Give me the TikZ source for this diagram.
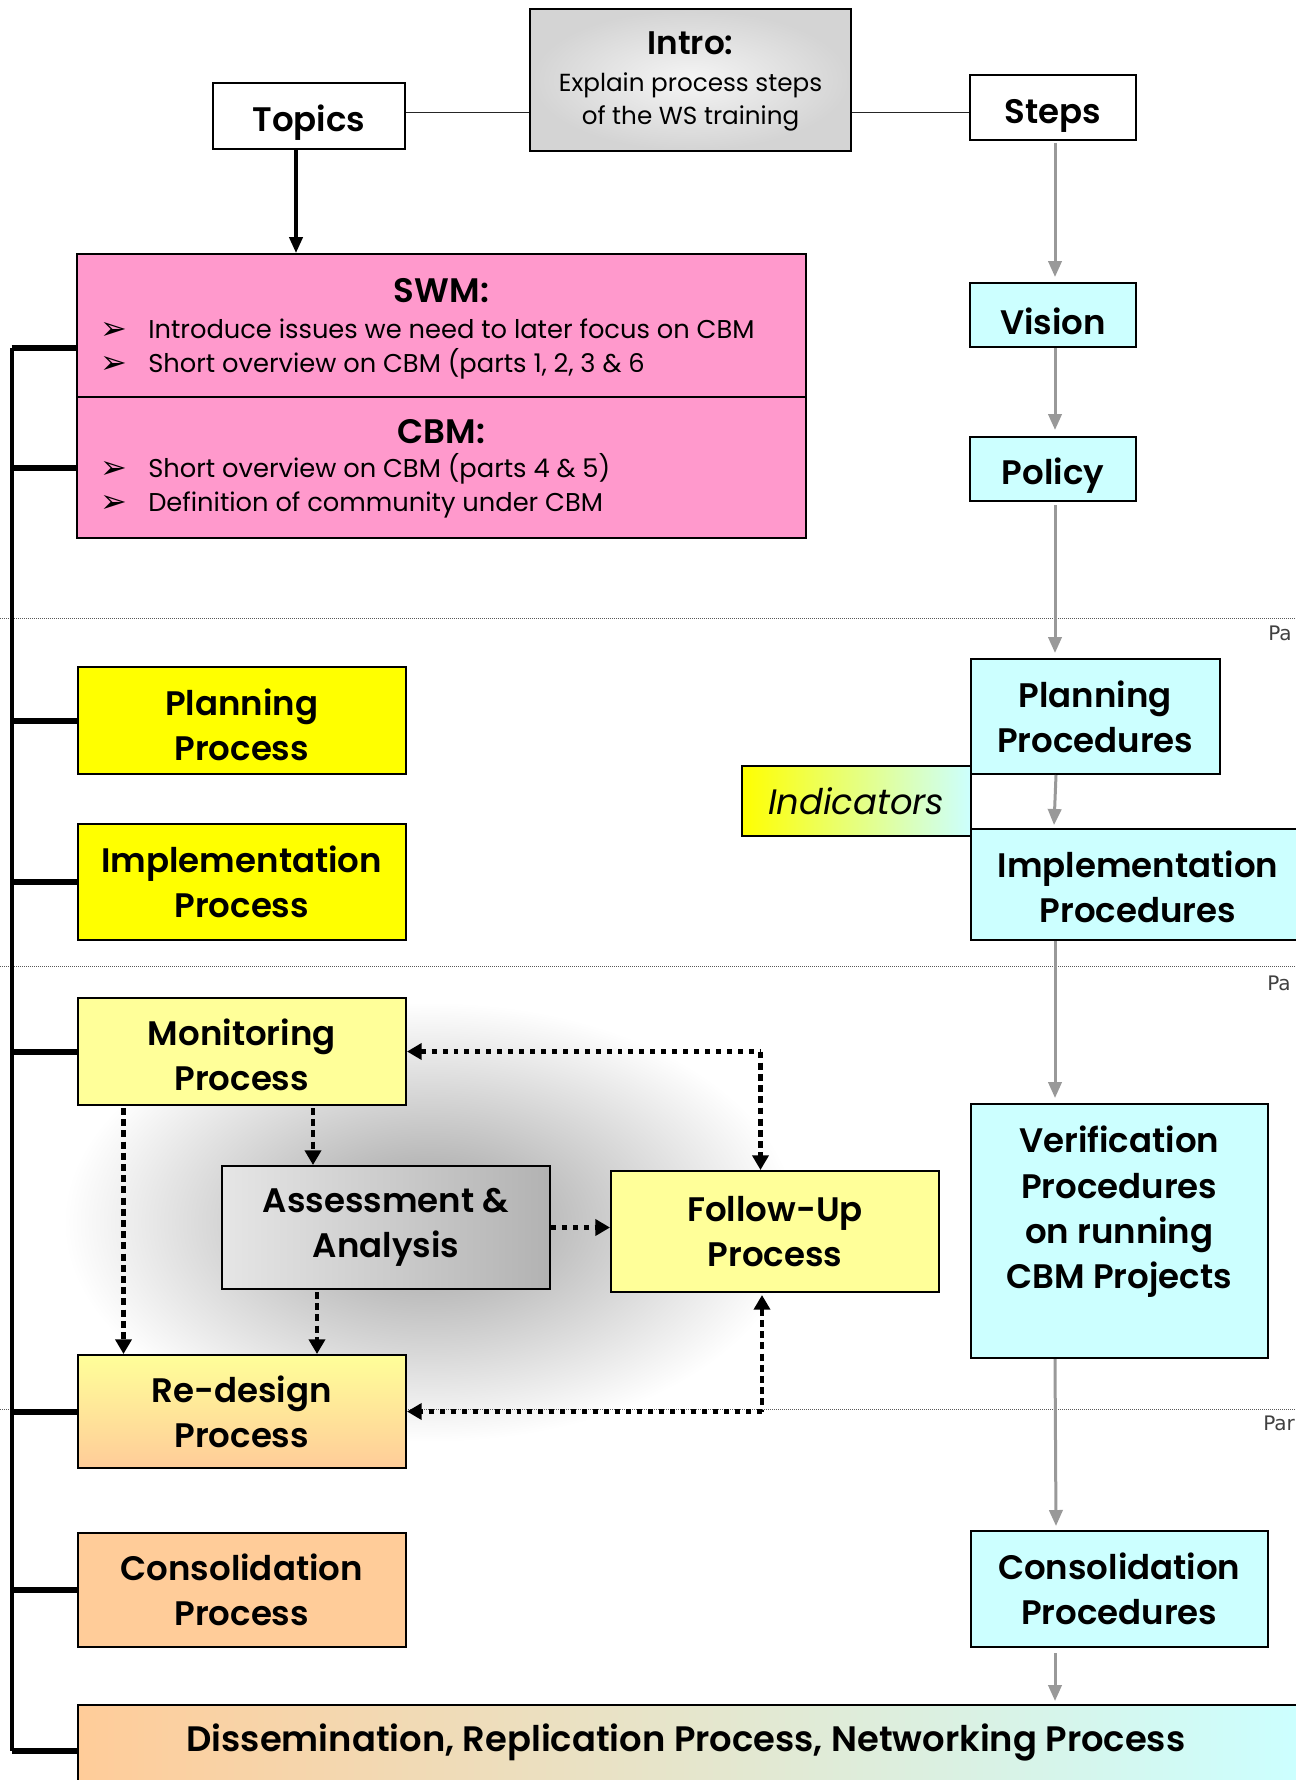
\documentclass[tikz,border=0pt]{standalone}
\usepackage{fontspec}
\setmainfont{Poppins}[BoldFont={Poppins SemiBold}]
\newfontfamily\dingfont{DejaVu Sans}
\newfontfamily\partfont{DejaVu Sans}
\usetikzlibrary{arrows.meta,calc}
\definecolor{pinkbox}{HTML}{FF99CC}
\definecolor{yelbox}{HTML}{FFFF00}
\definecolor{lyelbox}{HTML}{FFFF99}
\definecolor{cyanbox}{HTML}{CCFFFF}
\definecolor{peachbox}{HTML}{FFCC99}
\definecolor{grayarrow}{HTML}{999999}
\tikzset{
  boxbase/.style={draw=black, line width=1.5pt, rectangle, inner sep=0pt, align=center,
    font=\bfseries\fontsize{25.5}{34}\selectfont},
  box/.style={boxbase, execute at begin node={\rule{0pt}{30pt}}},
  boxtext/.style={inner sep=0pt, align=center, font=\bfseries\fontsize{25.5}{34}\selectfont},
  wh/.style 2 args={minimum width=#1*0.75pt, minimum height=#2*0.75pt},
  plain/.style={inner sep=0pt, font=\fontsize{19.3}{22}\selectfont},
  bul/.style={inner sep=0pt, anchor=base west, font=\dingfont\fontsize{24}{26}\selectfont},
  titlefont/.style={font=\bfseries\fontsize{25.5}{30}\selectfont},
  grayarr/.style={draw=grayarrow, line width=2.25pt, -{Triangle[length=12pt,width=10pt]}},
  blackarr/.style={draw=black, line width=2.5pt, -{Triangle[length=12pt,width=10pt]}},
  dotH/.style={draw=black, line width=3.5pt, dash pattern=on 3.7pt off 4.5pt,
    >={Triangle[length=11pt,width=12pt]}},
  dotV/.style={draw=black, line width=3.5pt, dash pattern=on 5.2pt off 3.2pt,
    >={Triangle[length=11pt,width=12pt]}},
  sepline/.style={draw=black!65, line width=0.75pt, dash pattern=on 0.75pt off 0.75pt},
  parttext/.style={inner sep=0pt, anchor=west, text=black!75, font=\partfont\fontsize{15}{17}\selectfont},
  bracketline/.style={draw=black, line width=3pt},
  tickline/.style={draw=black, line width=4.5pt},
  thinline/.style={draw=black!85, line width=1.2pt},
}
\begin{document}
\begin{tikzpicture}[x=0.75pt,y=-0.75pt]
\useasboundingbox (0,0) rectangle (1295,1780);
% soft glow behind the assessment area
\shade[inner color=black!38, outer color=white] (430,1222) ellipse [x radius=275pt, y radius=165pt];
% separators
\draw[sepline] (0,618.5) -- (1295,618.5);
\draw[sepline] (0,966) -- (1295,966);
\draw[sepline] (0,1409) -- (1295,1409);
\node[parttext] (pa1) at (1268,633) {Pa};
\node[parttext] (pa2) at (1267,983) {Pa};
\node[parttext] (pa3) at (1263,1423) {Par};

% top row
\node[box, wh={192}{66}, fill=white] (topics) at (309,116) {Topics};
\node[boxbase, wh={321}{142}, inner color=black!4, outer color=black!17] (intro) at (690.5,80) {};
\node[inner sep=0pt, anchor=base, font=\bfseries\fontsize{24.5}{30}\selectfont] (introT) at (690.5,55) {Intro:};
\node[inner sep=0pt, anchor=base, font=\fontsize{18.5}{20}\selectfont] (introB1) at (690.5,92) {Explain process steps};
\node[inner sep=0pt, anchor=base, font=\fontsize{18.5}{20}\selectfont] (introB2) at (690.5,125) {of the WS training};
\node[box, wh={166}{65}, fill=white] (steps) at (1053,107.5) {Steps};

% SWM / CBM
\node[boxbase, wh={729}{143}, fill=pinkbox] (swm) at (441.5,325.5) {};
\node[boxbase, wh={729}{141}, fill=pinkbox] (cbm) at (441.5,467.5) {};
\node[inner sep=0pt, anchor=base, titlefont] (swmT) at (441.5,302) {SWM:};
\node[bul] (swmD1) at (100,339) {➢};
\node[plain, anchor=base west] (swmL1) at (148,338) {Introduce issues we need to later focus on CBM};
\node[bul] (swmD2) at (100,373.5) {➢};
\node[plain, anchor=base west] (swmL2) at (148,372.5) {Short overview on CBM (parts 1, 2, 3 \& 6};
\node[inner sep=0pt, anchor=base, titlefont] (cbmT) at (441.5,443) {CBM:};
\node[bul] (cbmD1) at (100,478) {➢};
\node[plain, anchor=base west] (cbmL1) at (148,477) {Short overview on CBM (parts 4 \& 5)};
\node[bul] (cbmD2) at (100,512) {➢};
\node[plain, anchor=base west] (cbmL2) at (148,511) {Definition of community under CBM};

% right column
\node[box, wh={166}{64}, fill=cyanbox] (vision) at (1053,315) {Vision};
\node[box, wh={166}{64}, fill=cyanbox] (policy) at (1053,469) {Policy};
\node[box, wh={248.5}{115}, fill=cyanbox] (planR) at (1095.25,716.5) {Planning\\Procedures};
\node[boxbase, wh={229.5}{70}, left color=yelbox, right color=cyanbox,
  font=\itshape\fontsize{26.5}{34}\selectfont] (ind) at (856.25,801) {Indicators};
\node[boxbase, wh={334}{111}, fill=cyanbox] (implR) at (1138,884.5) {};
\node[boxtext] (implRt) at ($(implR)+(0,2.5)$) {Implementation\\Procedures};
\node[boxbase, wh={296.5}{254}, fill=cyanbox] (verR) at (1119.25,1231) {};
\node[boxtext] (verT) at (1119.25,1212) {Verification\\Procedures\\on running\\CBM Projects};
\node[box, wh={296.5}{116}, fill=cyanbox] (consR) at (1119.25,1589) {Consolidation\\Procedures};

% left column
\node[boxbase, wh={328.5}{107}, fill=yelbox] (planP) at (241.75,720.5) {};
\node[boxtext] (planPt) at ($(planP)+(0,4.5)$) {Planning\\Process};
\node[box, wh={328.5}{116}, fill=yelbox] (implP) at (241.75,882) {Implementation\\Process};
\node[boxbase, wh={328.5}{107}, fill=lyelbox] (monP) at (241.75,1051.5) {};
\node[boxtext] (monPt) at ($(monP)+(0,3.5)$) {Monitoring\\Process};
\node[box, wh={328.5}{113}, top color=lyelbox, bottom color=peachbox] (redP) at (241.75,1411.5) {Re-design\\Process};
\node[box, wh={328.5}{114}, fill=peachbox] (consP) at (241.75,1590) {Consolidation\\Process};

% middle
\node[box, wh={328}{123}, left color=black!10, right color=black!30] (assess) at (386,1227.5) {Assessment \&\\Analysis};
\node[box, wh={328}{121}, fill=lyelbox] (follow) at (775,1231.5) {Follow-Up\\Process};

% bottom
\node[boxbase, wh={1223}{92}, left color=peachbox, right color=cyanbox] (diss) at (689,1751) {};
\node[inner sep=0pt, font=\bfseries\fontsize{26.5}{34}\selectfont] (dissT) at (686,1742) {Dissemination, Replication Process, Networking Process};

% connectors top
\draw[thinline] ($(topics.east)+(0,-3.5)$) -- ($(intro.west)+(0,32.5)$);
\draw[thinline] ($(intro.east)+(0,32.5)$) -- ($(steps.west)+(0,5)$);
\coordinate (tA) at ($(topics.south)+(-13,0)$);
\draw[blackarr] (tA) -- (tA |- swm.north);

% gray step arrows
\draw[grayarr] ($(steps.south)+(2,2)$) -- ($(vision.north)+(2,-5)$);
\draw[grayarr] ($(vision.south)+(2,0)$) -- ($(policy.north)+(2,-6)$);
\draw[grayarr] ($(policy.south)+(2,3)$) -- ($(planR.north -| policy.south)+(2,-5)$);
\draw[grayarr] ($(planR.south -| policy.south)+(3,0)$) -- ($(implR.north -| policy.south)+(1,-3)$);
\draw[grayarr] ($(implR.south -| policy.south)+(2,0)$) -- ($(verR.north -| policy.south)+(2,-5)$);
\draw[grayarr] ($(verR.south -| policy.south)+(2,0)$) -- ($(consR.north -| policy.south)+(3,-4)$);
\draw[grayarr] ($(consR.south -| policy.south)+(2,5)$) -- ($(diss.north -| policy.south)+(2,-3)$);

% bracket
\coordinate (brTop) at (11.5,348);
\draw[bracketline] (brTop) -- (diss.west -| brTop);
\draw[tickline] (brTop) -- (brTop -| swm.west);
\draw[tickline] (cbm.west) -- (cbm.west -| brTop);
\draw[tickline] (planP.west) -- (planP.west -| brTop);
\draw[tickline] (implP.west) -- (implP.west -| brTop);
\draw[tickline] (monP.west) -- (monP.west -| brTop);
\draw[tickline] (redP.west) -- (redP.west -| brTop);
\draw[tickline] (consP.west) -- (consP.west -| brTop);
\draw[tickline] (diss.west) -- (diss.west -| brTop);

% dotted process arrows
\coordinate (mR) at ($(monP.south west)+(47,2)$);
\coordinate (mA) at ($(monP.south west)+(236.5,2)$);
\coordinate (aR) at ($(assess.south west)+(96,2)$);
\coordinate (fU) at ($(follow.north)+(-14.5,0)$);
\coordinate (fD) at ($(follow.south west)+(152,2)$);
\coordinate (c1) at (monP.east -| fU);
\coordinate (c2) at (fD |- redP.east);
\draw[dotH, <-] (monP.east) -- (c1);
\draw[dotV, ->] (c1) -- (fU);
\draw[dotV, ->] (mR) -- (mR |- redP.north);
\draw[dotV, ->] (mA) -- (mA |- assess.north);
\draw[dotV, ->] (aR) -- (aR |- redP.north);
\draw[dotH, ->] (assess.east) -- (assess.east -| follow.west);
\draw[dotV, <-] (fD) -- (c2);
\draw[dotH, ->] (c2) -- (redP.east);
\end{tikzpicture}
\end{document}
